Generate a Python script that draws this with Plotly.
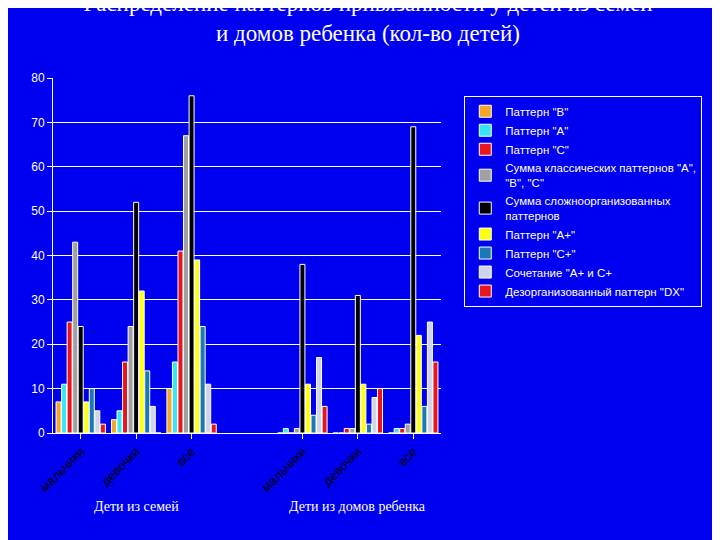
import plotly.graph_objects as go

positions = [0, 1, 2, 4, 5, 6]
tick_labels = ["мальчики", "девочки", "все", "мальчики", "девочки", "все"]
series_names = ['Паттерн "B"', 'Паттерн "A"', 'Паттерн "C"',
                'Сумма классических паттернов "A",<br>"B", "C"',
                'Сумма сложноорганизованных<br>паттернов',
                'Паттерн "A+"', 'Паттерн "C+"', 'Сочетание "A+ и C+',
                'Дезорганизованный паттерн "DX"']
colors = ["#f5a623", "#33e8f0", "#e8141e", "#a0a0a0", "#000000",
          "#ffff10", "#1a78b4", "#d0d4e8", "#e8141e"]
values = [
    [7, 3, 10, 0, 0, 0],
    [11, 5, 16, 1, 0, 1],
    [25, 16, 41, 0, 1, 1],
    [43, 24, 67, 1, 1, 2],
    [24, 52, 76, 38, 31, 69],
    [7, 32, 39, 11, 11, 22],
    [10, 14, 24, 4, 2, 6],
    [5, 6, 11, 17, 8, 25],
    [2, 0, 2, 6, 10, 16],
]

fig = go.Figure()
for i, (n, c, v) in enumerate(zip(series_names, colors, values)):
    fig.add_trace(go.Bar(x=positions, y=v, name=n, legendgroup=str(i),
                         marker=dict(color=c, line=dict(color="white", width=1))))

bg = "#0000f0"
fig.update_layout(
    width=720, height=540, paper_bgcolor=bg, plot_bgcolor=bg,
    barmode="group", bargap=0.1, bargroupgap=0.1,
    margin=dict(l=45, r=287, t=70, b=115),
    title=dict(text="Распределение паттернов привязанности у детей из семей<br>и домов ребенка (кол-во детей)",
               x=0.5, xanchor="center", y=0.995, yanchor="top",
               font=dict(family="Liberation Serif", size=23, color="white")),
    xaxis=dict(tickvals=positions, ticktext=tick_labels, range=[-0.5, 6.5],
               tickangle=-45, showgrid=False, showline=True, linecolor="white",
               tickfont=dict(family="Arial", size=13, color="black"), ticks="outside",
               tickcolor="white"),
    yaxis=dict(range=[0, 80], dtick=10, gridcolor="white", showline=True, linecolor="white",
               tickfont=dict(family="Arial", size=12, color="white"), ticks="outside",
               tickcolor="white", zeroline=False),
    legend=dict(x=1.06, xanchor="left", y=0.95, yanchor="top",
                bgcolor=bg, bordercolor="white", borderwidth=1,
                font=dict(family="Arial", size=11.5, color="white"),
                tracegroupgap=17, traceorder="normal"),
    annotations=[
        dict(text="Дети из семей", x=1, y=-0.235, xref="x", yref="paper", showarrow=False,
             font=dict(family="Liberation Serif", size=14, color="white")),
        dict(text="Дети из домов ребенка", x=5, y=-0.235, xref="x", yref="paper", showarrow=False,
             font=dict(family="Liberation Serif", size=14, color="white")),
    ],
)
fig.write_html("out.html")
